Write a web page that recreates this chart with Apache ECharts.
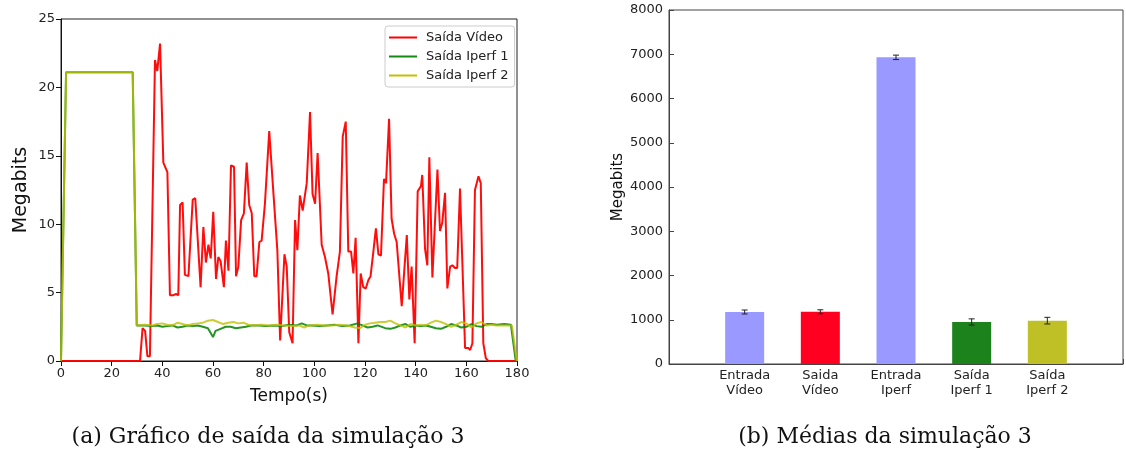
<!DOCTYPE html>
<html>
<head>
<meta charset="utf-8">
<script src="https://cdn.jsdelivr.net/npm/echarts@6/dist/echarts.min.js"></script>
<style>
  html, body { margin: 0; padding: 0; background: #fff; }
  #chart { width: 1126px; height: 455px; }
</style>
</head>
<body>
<div id="chart"></div>
<script>
// (a) output throughput over time, [seconds, Megabits]
const videoOut = [
  [0,0],[31.2,0],[32.2,2.4],[33.2,2.2],[34.1,0.35],[35.1,0.35],[37.1,22],[38,21.2],[39.1,23.2],
  [40.4,14.5],[42,13.8],[43,4.8],[44.3,4.8],[45.4,4.9],[46.3,4.8],[47,11.4],[48,11.6],[48.9,6.3],
  [50.3,6.2],[52,11.8],[53,11.9],[55.1,5.4],[56.2,9.8],[57.2,7.2],[58.2,8.5],[59.1,7.5],[60.1,10.9],
  [61.2,6.0],[62.1,7.6],[63,7.3],[64.3,5.4],[65.1,8.8],[66.1,6.6],[67.1,14.3],[68.3,14.2],[69.1,6.2],
  [70,6.9],[71.1,10.3],[72.2,10.8],[73.3,14.5],[74.3,11.4],[75.3,10.8],[76.3,6.2],[77.2,6.2],
  [78.3,8.7],[79.2,8.8],[80.5,11.5],[82.2,16.8],[83.8,12.4],[85.4,8.1],[86.5,1.5],[88.2,7.8],
  [89.1,6.9],[90.1,2.1],[91.4,1.3],[92.4,10.3],[93.3,8.1],[94.3,12.1],[95.4,11.0],[97,13.0],
  [98.3,18.2],[99.3,12.2],[100.3,11.5],[101.3,15.2],[102.9,8.5],[104.2,7.6],[105.5,6.4],[107.2,3.4],
  [108.8,6.2],[110.1,8.0],[111.2,16.4],[112.4,17.5],[113.4,8.0],[114.5,8.0],[115.4,6.4],[116.3,9.0],
  [117.4,1.3],[118.3,6.4],[119.3,5.4],[120.3,5.3],[121.3,5.9],[122.2,6.2],[123.3,8.0],[124.3,9.7],
  [125.3,7.8],[126.3,7.7],[127.5,13.3],[128.3,13.0],[129.5,17.7],[130.5,10.4],[131.5,9.3],[132.5,8.7],
  [134.5,4.0],[136.5,9.2],[137.5,4.5],[138.4,6.9],[139.6,1.3],[140.8,12.4],[142.1,12.8],[142.6,13.6],
  [143.7,8.2],[144.6,7.0],[145.4,14.9],[146.6,6.1],[148.6,14.0],[149.6,9.5],[150.5,10.1],[151.6,12.3],
  [152.5,5.3],[153.6,6.9],[154.5,7.0],[155.5,6.8],[156.4,6.8],[157.5,12.6],[159.5,0.95],[160.8,0.95],
  [161.5,0.8],[162.4,1.3],[163.4,12.5],[164.8,13.5],[165.7,13.0],[166.7,1.3],[167.7,0.2],[168.7,0],[180,0]
];
const iperf1Out = [
  [0,0],[2,21.1],[28.3,21.1],[29.9,2.6],[33,2.6],[36,2.55],[38,2.6],[40,2.5],[42,2.55],[44,2.6],
  [46,2.45],[48,2.5],[50,2.6],[52,2.55],[54,2.6],[56,2.5],[58,2.4],[60,1.75],[61,2.2],[63,2.35],
  [65,2.5],[67,2.5],[69,2.4],[71,2.45],[73,2.5],[75,2.6],[78,2.6],[81,2.55],[84,2.6],[87,2.55],
  [90,2.65],[93,2.6],[95,2.75],[97,2.6],[99,2.6],[102,2.55],[105,2.6],[108,2.65],[111,2.55],[114,2.6],
  [117,2.75],[119,2.6],[121,2.45],[123,2.5],[125,2.6],[128,2.4],[130,2.35],[132,2.45],[134,2.6],
  [136,2.7],[138,2.5],[140,2.6],[142,2.55],[144,2.6],[146,2.5],[148,2.4],[150,2.35],[152,2.5],
  [154,2.7],[156,2.6],[158,2.45],[160,2.5],[162,2.7],[164,2.55],[166,2.5],[168,2.7],[170,2.7],
  [172,2.65],[175,2.7],[177.6,2.65],[179.5,0]
];
const iperf2Out = [
  [0,0],[2,21.1],[28.3,21.1],[29.9,2.6],[33,2.65],[36,2.6],[38,2.7],[40,2.75],[42,2.65],[44,2.6],
  [46,2.8],[48,2.7],[50,2.6],[52,2.7],[54,2.75],[56,2.8],[58,2.95],[60,3.0],[62,2.85],[64,2.7],
  [66,2.8],[68,2.85],[70,2.75],[72,2.8],[74,2.65],[76,2.6],[79,2.65],[82,2.6],[85,2.65],[88,2.6],
  [91,2.55],[94,2.6],[96,2.45],[98,2.6],[101,2.65],[104,2.6],[107,2.6],[110,2.65],[113,2.6],
  [116,2.45],[118,2.4],[120,2.65],[122,2.75],[124,2.8],[126,2.85],[128,2.85],[130,2.95],[132,2.75],
  [134,2.6],[136,2.45],[138,2.7],[140,2.6],[142,2.65],[144,2.6],[146,2.8],[148,2.95],[150,2.85],
  [152,2.7],[154,2.5],[156,2.65],[158,2.85],[160,2.75],[162,2.45],[164,2.75],[166,2.85],[168,2.6],
  [170,2.65],[172,2.6],[175,2.6],[178,2.6],[179.9,0]
];
const lineNames = ['Saída Vídeo', 'Saída Iperf 1', 'Saída Iperf 2'];

// (b) averages with standard error
const barLabels = ['Entrada\nVídeo', 'Saida\nVídeo', 'Entrada\nIperf', 'Saída\nIperf 1', 'Saída\nIperf 2'];
const barMeans = [1175, 1180, 6930, 950, 980];
const barErrors = [45, 45, 50, 70, 75];
const barColors = ['#9999ff', '#ff0020', '#9999ff', '#1c821c', '#bfbf26'];

const FONT = 'DejaVu Sans';
const chart = echarts.init(document.getElementById('chart'), null, { renderer: 'canvas' });

chart.setOption({
  animation: false,
  backgroundColor: '#fff',
  textStyle: { fontFamily: FONT },
  grid: [
    { left: 61, top: 19, width: 456, height: 342, show: true, borderColor: '#222', borderWidth: 1, backgroundColor: 'transparent' },
    { left: 669, top: 10, width: 456, height: 354, show: true, borderColor: '#444', borderWidth: 1, backgroundColor: 'transparent' }
  ],
  legend: {
    data: lineNames,
    orient: 'vertical',
    left: 385, top: 26,
    padding: [5, 6, 5, 4],
    itemGap: 6,
    itemWidth: 28, itemHeight: 2,
    icon: 'rect',
    backgroundColor: '#fff',
    borderColor: '#cccccc', borderWidth: 1, borderRadius: 3,
    textStyle: { fontFamily: FONT, fontSize: 13, color: '#222', padding: [0, 0, 0, 4] }
  },
  xAxis: [
    {
      gridIndex: 0, type: 'value', min: 0, max: 180, interval: 20,
      name: 'Tempo(s)', nameLocation: 'middle', nameGap: 27,
      nameTextStyle: { fontFamily: FONT, fontSize: 17, color: '#111' },
      axisLine: { lineStyle: { color: '#111', width: 1 } },
      axisTick: { show: true, inside: false, length: 5, lineStyle: { color: '#111' } },
      axisLabel: { fontFamily: FONT, fontSize: 13, color: '#222', margin: 6 },
      splitLine: { show: false }
    },
    {
      gridIndex: 1, type: 'value', min: -1, max: 5, interval: 1,
      axisLine: { onZero: false, lineStyle: { color: '#444', width: 1 } },
      axisTick: { show: true, inside: true, length: 5, lineStyle: { color: '#444' } },
      axisLabel: {
        fontFamily: FONT, fontSize: 13, color: '#222', margin: 4, lineHeight: 15,
        formatter: v => (v >= 0 && v < barLabels.length) ? barLabels[v] : ''
      },
      splitLine: { show: false }
    }
  ],
  yAxis: [
    {
      gridIndex: 0, type: 'value', min: 0, max: 25, interval: 5,
      name: 'Megabits', nameLocation: 'middle', nameGap: 30,
      nameTextStyle: { fontFamily: FONT, fontSize: 19, color: '#111' },
      axisLine: { show: true, onZero: false, lineStyle: { color: '#111', width: 1 } },
      axisTick: { show: true, inside: false, length: 5, lineStyle: { color: '#111' } },
      axisLabel: { fontFamily: FONT, fontSize: 13, color: '#222', margin: 6 },
      splitLine: { show: false }
    },
    {
      gridIndex: 1, type: 'value', min: 0, max: 8000, interval: 1000,
      name: 'Megabits', nameLocation: 'middle', nameGap: 40,
      nameTextStyle: { fontFamily: FONT, fontSize: 15, color: '#111' },
      axisLine: { show: true, onZero: false, lineStyle: { color: '#444', width: 1 } },
      axisTick: { show: true, inside: true, length: 5, lineStyle: { color: '#444' } },
      axisLabel: { fontFamily: FONT, fontSize: 13, color: '#222', margin: 6, formatter: v => String(v) },
      splitLine: { show: false }
    }
  ],
  series: [
    {
      name: lineNames[0], type: 'line', xAxisIndex: 0, yAxisIndex: 0,
      data: videoOut, showSymbol: false, symbol: 'none',
      lineStyle: { color: '#ff0000', width: 2, opacity: 0.95 }, itemStyle: { color: '#ff0000' }, z: 2
    },
    {
      name: lineNames[1], type: 'line', xAxisIndex: 0, yAxisIndex: 0,
      data: iperf1Out, showSymbol: false, symbol: 'none',
      lineStyle: { color: '#008000', width: 2, opacity: 0.85 }, itemStyle: { color: '#138a13' }, z: 3
    },
    {
      name: lineNames[2], type: 'line', xAxisIndex: 0, yAxisIndex: 0,
      data: iperf2Out, showSymbol: false, symbol: 'none',
      lineStyle: { color: '#bfbf00', width: 2, opacity: 0.8 }, itemStyle: { color: '#c4c000' }, z: 4
    },
    {
      name: 'médias', type: 'bar', xAxisIndex: 1, yAxisIndex: 1, barWidth: 39,
      data: barMeans.map((m, i) => ({ value: [i, m], itemStyle: { color: barColors[i] } })),
      z: 2
    },
    {
      name: 'erro', type: 'custom', xAxisIndex: 1, yAxisIndex: 1, z: 5,
      data: barMeans.map((m, i) => [i, m, barErrors[i]]),
      renderItem: function (params, api) {
        const x = api.value(0), m = api.value(1), e = api.value(2);
        const hi = api.coord([x, m + e]);
        const lo = api.coord([x, m - e]);
        const cap = 3;
        const st = { stroke: '#222', lineWidth: 1 };
        return {
          type: 'group',
          children: [
            { type: 'line', shape: { x1: hi[0], y1: hi[1], x2: lo[0], y2: lo[1] }, style: st },
            { type: 'line', shape: { x1: hi[0] - cap, y1: hi[1], x2: hi[0] + cap, y2: hi[1] }, style: st },
            { type: 'line', shape: { x1: lo[0] - cap, y1: lo[1], x2: lo[0] + cap, y2: lo[1] }, style: st }
          ]
        };
      }
    }
  ],
  graphic: [
    {
      type: 'text', x: 268, y: 437,
      style: {
        text: '(a) Gráfico de saída da simulação 3',
        font: '22px "DejaVu Serif"', fill: '#111',
        textAlign: 'center', textVerticalAlign: 'middle'
      }
    },
    {
      type: 'text', x: 885, y: 437,
      style: {
        text: '(b) Médias da simulação 3',
        font: '22px "DejaVu Serif"', fill: '#111',
        textAlign: 'center', textVerticalAlign: 'middle'
      }
    }
  ]
});
</script>
</body>
</html>
